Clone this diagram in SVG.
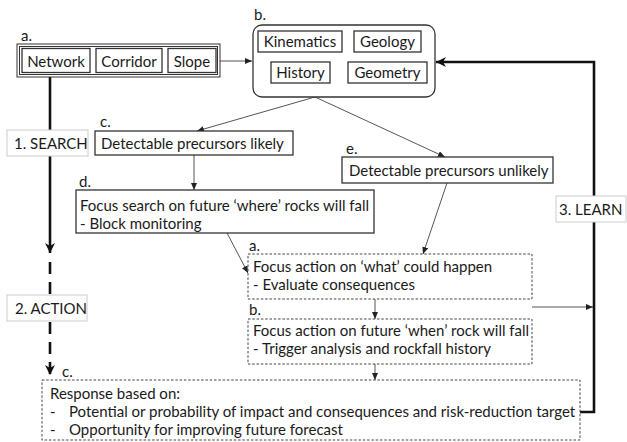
<svg xmlns="http://www.w3.org/2000/svg" width="627" height="442" viewBox="0 0 627 442">
<style>
text{font-family:Lato,"Liberation Sans",sans-serif;font-size:15px;fill:#1a1a1a}
.c{text-anchor:middle}
.box{fill:#fff;stroke:#333;stroke-width:1.3}
.dbox{fill:#fff;stroke:#444;stroke-width:1;stroke-dasharray:2.5 1.8}
.lbl{fill:#fff;stroke:#ccc;stroke-width:1}
.thin{fill:none;stroke:#555;stroke-width:1}
.thick{fill:none;stroke:#111;stroke-width:2.6}
</style>
<defs>
<marker id="ah" markerUnits="userSpaceOnUse" markerWidth="7" markerHeight="6" refX="7" refY="3" orient="auto"><path d="M0,0 L7,3 L0,6 z" fill="#222"/></marker>
<marker id="ahT" markerUnits="userSpaceOnUse" markerWidth="10" markerHeight="10" refX="10" refY="5" orient="auto"><path d="M0,0 L10,5 L0,10 L3,5 z" fill="#111"/></marker>
</defs>
<g id="connectors">
<line class="thin" x1="220" y1="61" x2="252" y2="61" marker-end="url(#ah)"/>
<line class="thin" x1="315" y1="97" x2="197" y2="131" marker-end="url(#ah)"/>
<line class="thin" x1="315" y1="97" x2="445" y2="157" marker-end="url(#ah)"/>
<line class="thin" x1="194" y1="155" x2="194" y2="190" marker-end="url(#ah)"/>
<line class="thin" x1="227" y1="233" x2="248" y2="273" marker-end="url(#ah)"/>
<line class="thin" x1="447" y1="183" x2="423" y2="254" marker-end="url(#ah)"/>
<line class="thin" x1="375" y1="299" x2="375" y2="319" marker-end="url(#ah)"/>
<line class="thin" x1="375" y1="364" x2="375" y2="380" marker-end="url(#ah)"/>
<line class="thin" x1="532" y1="307" x2="593" y2="307" marker-end="url(#ah)"/>
<polyline class="thick" points="580,412 594,412 594,62 436,62" marker-end="url(#ahT)"/>
<line class="thick" x1="50" y1="77" x2="50" y2="253" marker-end="url(#ahT)"/>
<line class="thick" x1="50" y1="262" x2="50" y2="375" stroke-dasharray="12 8" marker-end="url(#ahT)"/>
</g>
<g id="search"><rect class="lbl" x="7" y="130" width="81" height="26"/><text x="14" y="148.5">1. SEARCH</text></g>
<g id="action"><rect class="lbl" x="7" y="295" width="80" height="26"/><text x="15" y="313.5">2. ACTION</text></g>
<g id="learn"><rect class="lbl" x="556" y="196" width="70" height="26"/><text x="559" y="214.5">3. LEARN</text></g>
<g id="nodeA">
<text x="21" y="41">a.</text>
<rect x="17" y="44" width="203" height="33" fill="#fff" stroke="#333" stroke-width="1"/>
<rect x="19.5" y="46.5" width="198" height="28" fill="none" stroke="#333" stroke-width="1"/>
<rect class="box" x="22" y="48.5" width="68" height="24"/><text class="c" x="56" y="66.5">Network</text>
<rect class="box" x="96" y="48.5" width="66" height="24"/><text class="c" x="129" y="66.5">Corridor</text>
<rect class="box" x="168" y="48.5" width="48" height="24"/><text class="c" x="192" y="66.5">Slope</text>
</g>
<g id="nodeB">
<text x="254" y="20">b.</text>
<rect class="box" x="253" y="25" width="182" height="72" rx="9"/>
<rect class="box" x="258" y="31" width="84" height="21"/><text class="c" x="300" y="47">Kinematics</text>
<rect class="box" x="354" y="31" width="67" height="21"/><text class="c" x="387.5" y="47">Geology</text>
<rect class="box" x="271" y="62" width="59" height="21"/><text class="c" x="300.5" y="78">History</text>
<rect class="box" x="348" y="62" width="79" height="21"/><text class="c" x="387.5" y="78">Geometry</text>
</g>
<g id="nodeC">
<text x="100" y="127">c.</text>
<rect class="box" x="95" y="131" width="198" height="24"/>
<text x="101" y="148.5">Detectable precursors likely</text>
</g>
<g id="nodeE">
<text x="346" y="154">e.</text>
<rect class="box" x="342" y="157" width="211" height="26"/>
<text x="349" y="175.5">Detectable precursors unlikely</text>
</g>
<g id="nodeD">
<text x="79" y="187">d.</text>
<rect class="box" x="76" y="190" width="298" height="43"/>
<text x="80" y="211">Focus search on future ‘where’ rocks will fall</text>
<text x="80" y="229">- Block monitoring</text>
</g>
<g id="nodeA2">
<text x="249" y="251">a.</text>
<rect class="dbox" x="248" y="254" width="284" height="45"/>
<text x="253" y="272">Focus action on ‘what’ could happen</text>
<text x="253" y="290">- Evaluate consequences</text>
</g>
<g id="nodeB2">
<text x="249" y="315">b.</text>
<rect class="dbox" x="248" y="319" width="284" height="45"/>
<text x="253" y="336">Focus action on future ‘when’ rock will fall</text>
<text x="253" y="354">- Trigger analysis and rockfall history</text>
</g>
<g id="nodeC3">
<text x="62" y="377">c.</text>
<rect class="dbox" x="42" y="380" width="538" height="60"/>
<text x="50" y="399">Response based on:</text>
<text x="50" y="417">-</text><text x="69" y="417">Potential or probability of impact and consequences and risk-reduction target</text>
<text x="50" y="435">-</text><text x="69" y="435">Opportunity for improving future forecast</text>
</g>
</svg>
